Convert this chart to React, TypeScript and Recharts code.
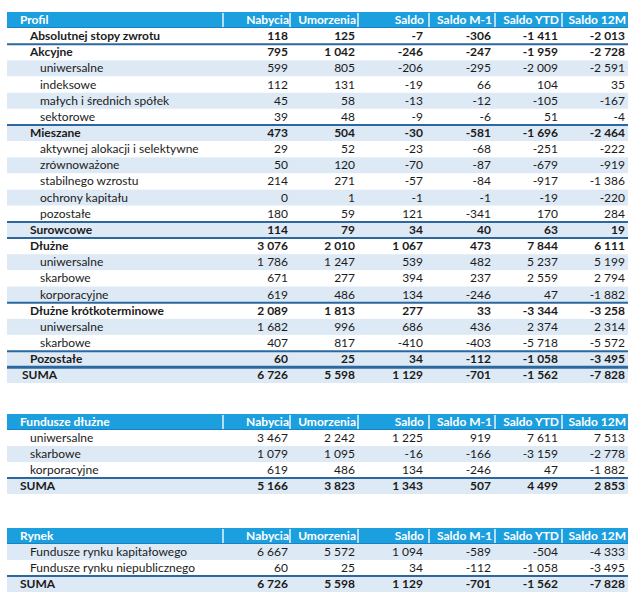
import { BarChart, Bar, XAxis, YAxis } from "recharts";

// ---- column headers ----
const columns = ["Nabycia", "Umorzenia", "Saldo", "Saldo M-1", "Saldo YTD", "Saldo 12M"];

// ---- table 1: Profil ----
const profilLabels = [
  "Absolutnej stopy zwrotu", "Akcyjne", "uniwersalne", "indeksowe", "małych i średnich spółek", "sektorowe",
  "Mieszane", "aktywnej alokacji i selektywne", "zrównoważone", "stabilnego wzrostu", "ochrony kapitału", "pozostałe",
  "Surowcowe", "Dłużne", "uniwersalne", "skarbowe", "korporacyjne",
  "Dłużne krótkoterminowe", "uniwersalne", "skarbowe", "Pozostałe", "SUMA",
];
const profilLevel = [
  "group", "group", "sub", "sub", "sub", "sub",
  "group", "sub", "sub", "sub", "sub", "sub",
  "group", "group", "sub", "sub", "sub",
  "group", "sub", "sub", "group", "sum",
];
const profilNabycia = [118, 795, 599, 112, 45, 39, 473, 29, 50, 214, 0, 180, 114, 3076, 1786, 671, 619, 2089, 1682, 407, 60, 6726];
const profilUmorzenia = [125, 1042, 805, 131, 58, 48, 504, 52, 120, 271, 1, 59, 79, 2010, 1247, 277, 486, 1813, 996, 817, 25, 5598];
const profilSaldo = [-7, -246, -206, -19, -13, -9, -30, -23, -70, -57, -1, 121, 34, 1067, 539, 394, 134, 277, 686, -410, 34, 1129];
const profilSaldoM1 = [-306, -247, -295, 66, -12, -6, -581, -68, -87, -84, -1, -341, 40, 473, 482, 237, -246, 33, 436, -403, -112, -701];
const profilSaldoYTD = [-1411, -1959, -2009, 104, -105, 51, -1696, -251, -679, -917, -19, 170, 63, 7844, 5237, 2559, 47, -3344, 2374, -5718, -1058, -1562];
const profilSaldo12M = [-2013, -2728, -2591, 35, -167, -4, -2464, -222, -919, -1386, -220, 284, 19, 6111, 5199, 2794, -1882, -3258, 2314, -5572, -3495, -7828];

// ---- table 2: Fundusze dłużne ----
const dluzneLabels = ["uniwersalne", "skarbowe", "korporacyjne", "SUMA"];
const dluzneLevel = ["item", "item", "item", "sum"];
const dluzneNabycia = [3467, 1079, 619, 5166];
const dluzneUmorzenia = [2242, 1095, 486, 3823];
const dluzneSaldo = [1225, -16, 134, 1343];
const dluzneSaldoM1 = [919, -166, -246, 507];
const dluzneSaldoYTD = [7611, -3159, 47, 4499];
const dluzneSaldo12M = [7513, -2778, -1882, 2853];

// ---- table 3: Rynek ----
const rynekLabels = ["Fundusze rynku kapitałowego", "Fundusze rynku niepublicznego", "SUMA"];
const rynekLevel = ["item", "item", "sum"];
const rynekNabycia = [6667, 60, 6726];
const rynekUmorzenia = [5572, 25, 5598];
const rynekSaldo = [1094, 34, 1129];
const rynekSaldoM1 = [-589, -112, -701];
const rynekSaldoYTD = [-504, -1058, -1562];
const rynekSaldo12M = [-4333, -3495, -7828];

const HEADER_BG = "#1c9fdf";
const SHADE = "#dde9f5";
const LINE = "#2c689f";
const TEXT = "#1b1b1b";
const FONT = "Lato, 'Open Sans', sans-serif";
const TABLE_W = 621;
const colRight = [281, 348, 416, 484, 551, 618];
const colSep = [216, 283, 351, 422, 488, 555];

const fmt = (v: number) => {
  const s = String(Math.abs(v)).replace(/\B(?=(\d{3})+(?!\d))/g, "\u00a0");
  return (v < 0 ? "-" : "") + s;
};

type Row = { label: string; kind: string; values: number[]; span: number };

const buildRows = (labels: string[], levels: string[], series: number[][]): Row[] =>
  labels.map((label, i) => ({
    label,
    kind: levels[i],
    values: series.map((s) => s[i]),
    span: 1,
  }));

interface TableProps {
  title: string;
  rows: Row[];
  shaded: number[];
  thinLines: number[];
  thickLines: number[];
  rowH: number;
  sumX: number;
  top: number;
}

const Table = ({ title, rows, shaded, thinLines, thickLines, rowH, sumX, top }: TableProps) => {
  const data = [{ label: title, kind: "header", values: [], span: 1 }, ...rows];

  const RowShape = (props: any) => {
    const { x, y, width, height, index } = props;
    const row = data[index];
    const cy = y + height / 2 + 4;
    if (row.kind === "header") {
      return (
        <g>
          <rect x={x} y={y} width={width} height={height} fill={HEADER_BG} />
          <line x1={x} x2={x + width} y1={y + height - 0.5} y2={y + height - 0.5} stroke="#1a82c4" strokeWidth={1} />
          {colSep.map((s) => (
            <line key={s} x1={x + s} x2={x + s} y1={y + 1} y2={y + height - 1} stroke="#e8f4fb" strokeWidth={1.5} />
          ))}
          <text x={x + 13} y={cy} fill="#fff" fontWeight="bold" fontSize={12} fontFamily={FONT}>
            {row.label}
          </text>
          {columns.map((c, k) => (
            <text key={c} x={x + colRight[k] + 1} y={cy} textAnchor="end" fill="#fff" fontWeight="bold" fontSize={12} fontFamily={FONT}>
              {c}
            </text>
          ))}
        </g>
      );
    }
    const b = index - 1;
    const bold = row.kind === "group" || row.kind === "sum";
    const indent = row.kind === "group" ? 23 : row.kind === "sub" ? 33 : row.kind === "item" ? 23 : sumX;
    return (
      <g>
        <rect x={x} y={y} width={width} height={height} fill={shaded.includes(b) ? SHADE : "#fff"} />
        {thinLines.includes(b) && (
          <line x1={x} x2={x + width} y1={y} y2={y} stroke={LINE} strokeWidth={2} />
        )}
        {thickLines.includes(b) && (
          <line x1={x} x2={x + width} y1={y} y2={y} stroke={LINE} strokeWidth={3} />
        )}
        <text x={x + indent} y={cy} fill={TEXT} fontWeight={bold ? "bold" : "normal"} fontSize={12} fontFamily={FONT}>
          {row.label}
        </text>
        {row.values.map((v, k) => (
          <text key={k} x={x + colRight[k]} y={cy} textAnchor="end" fill={TEXT} fontWeight={bold ? "bold" : "normal"} fontSize={12} fontFamily={FONT}>
            {fmt(v)}
          </text>
        ))}
      </g>
    );
  };

  return (
    <div style={{ position: "absolute", left: 7, top }}>
      <BarChart
        width={TABLE_W}
        height={data.length * rowH}
        data={data}
        layout="vertical"
        margin={{ top: 0, right: 0, bottom: 0, left: 0 }}
        barCategoryGap={0}
        barGap={0}
      >
        <XAxis type="number" domain={[0, 1]} hide />
        <YAxis type="category" dataKey="label" hide />
        <Bar dataKey="span" isAnimationActive={false} shape={RowShape} />
      </BarChart>
    </div>
  );
};

const profilRows = buildRows(profilLabels, profilLevel, [
  profilNabycia, profilUmorzenia, profilSaldo, profilSaldoM1, profilSaldoYTD, profilSaldo12M,
]);
const dluzneRows = buildRows(dluzneLabels, dluzneLevel, [
  dluzneNabycia, dluzneUmorzenia, dluzneSaldo, dluzneSaldoM1, dluzneSaldoYTD, dluzneSaldo12M,
]);
const rynekRows = buildRows(rynekLabels, rynekLevel, [
  rynekNabycia, rynekUmorzenia, rynekSaldo, rynekSaldoM1, rynekSaldoYTD, rynekSaldo12M,
]);

export default function App() {
  return (
    <div style={{ position: "absolute", left: 0, top: 0, width: 640, height: 613, background: "#fff" }}>
      <Table
        title="Profil"
        rows={profilRows}
        shaded={[2, 4, 6, 8, 10, 12, 14, 16, 18, 20, 21]}
        thinLines={[1, 6, 12, 13, 17, 20]}
        thickLines={[21]}
        rowH={16.15}
        sumX={15}
        top={12}
      />
      <Table
        title="Fundusze dłużne"
        rows={dluzneRows}
        shaded={[1, 3]}
        thinLines={[3]}
        thickLines={[]}
        rowH={16}
        sumX={13}
        top={414}
      />
      <Table
        title="Rynek"
        rows={rynekRows}
        shaded={[0, 2]}
        thinLines={[2]}
        thickLines={[]}
        rowH={16}
        sumX={13}
        top={528}
      />
    </div>
  );
}
